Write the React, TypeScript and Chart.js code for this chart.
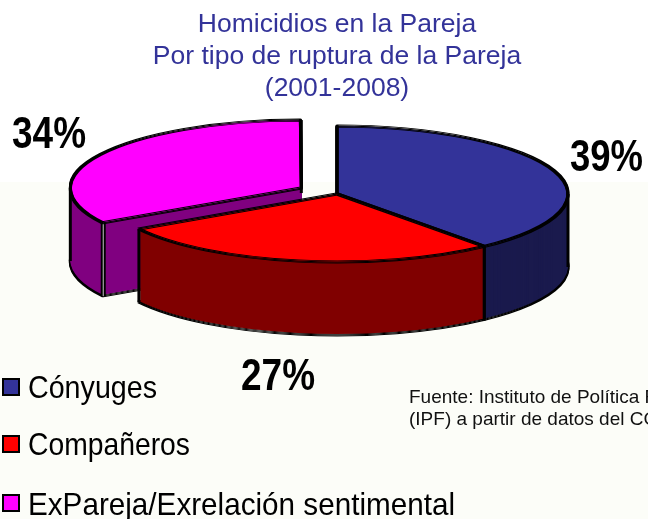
import React, { useEffect, useRef } from "react";
import { Chart, registerables } from "chart.js";

Chart.register(...registerables);

const titleLines = ["Homicidios en la Pareja", "Por tipo de ruptura de la Pareja", "(2001-2008)"];
const categories = ["Cónyuges", "Compañeros", "ExPareja/Exrelación sentimental"];
const shares = [39, 27.4, 33.6];
const percentLabels = ["39%", "27%", "34%"];
const sourceLines = ["Fuente: Instituto de Política Familiar", "(IPF) a partir de datos del CGPJ"];

const topColors = ["#333399", "#FF0000", "#FF00FF"];
const wallColors = ["#1A1A4D", "#800000", "#800080"];
const sliceOffsets = [0, 0, 164];
const drawOrder = [2, 0, 1];

const RADIUS = 231;
const SQUASH = 68 / 231;
const DEPTH = 72;
const FONT = '"Liberation Sans", Arial, sans-serif';

const percentPlacement = [
  { x: 570, y: 171, w: 73 },
  { x: 241, y: 390, w: 74 },
  { x: 12, y: 148, w: 74 },
];
const legendPlacement = [
  { box: 379, base: 398, w: 129 },
  { box: 436, base: 455, w: 162 },
  { box: 495, base: 515, w: 427 },
];

function fixFactor(el: any) {
  return 1 - Math.sin(Math.min(Math.PI, el.circumference || 0));
}

const pie3d = {
  id: "pie3d",
  beforeDraw(chart: any) {
    const { ctx, width, height } = chart;
    ctx.save();
    ctx.fillStyle = "#FFFFFF";
    ctx.fillRect(0, 0, width, height);
    ctx.fillStyle = "#FCFDF8";
    ctx.fillRect(0, 182, width, height - 182);
    ctx.restore();
  },
  afterDatasetsUpdate(chart: any) {
    // Arc.draw grows an exploded slice by offset * fix: cancel it so all slices share one radius.
    chart.getDatasetMeta(0).data.forEach((el: any) => {
      const off = (el.options.offset || 0) / 4;
      el.outerRadius = RADIUS - off * fixFactor(el);
    });
  },
  beforeDatasetsDraw(chart: any) {
    const { ctx } = chart;
    const arcs = chart.getDatasetMeta(0).data;

    const paint = (el: any, dy: number, fill: string, stroke: string, width: number) => {
      const orig = el.options;
      el.options = { ...orig, backgroundColor: fill, borderColor: stroke, borderWidth: width, borderJoinStyle: "round" };
      ctx.save();
      ctx.translate(0, el.y + dy);
      ctx.scale(1, SQUASH);
      ctx.translate(0, -el.y);
      el.draw(ctx);
      ctx.restore();
      el.options = orig;
    };

    drawOrder.forEach((i) => {
      const el = arcs[i];
      const off = (el.options.offset || 0) / 4;
      const mid = (el.startAngle + el.endAngle) / 2;
      const px = (a: number) => el.x + Math.cos(mid) * off + Math.cos(a) * RADIUS;
      const py = (a: number) => el.y + (Math.sin(mid) * off + Math.sin(a) * RADIUS) * SQUASH;

      // bottom outline
      [0, 1, 2].forEach((d) => paint(el, DEPTH + d, "transparent", "#000000", 3));
      // wall
      for (let d = DEPTH; d >= 1; d--) paint(el, d, wallColors[i], "transparent", 0);

      // vertical edges at the cut corners and silhouette extremes
      const edges = [el.startAngle, el.endAngle];
      [0, Math.PI].forEach((a) => {
        if (a > el.startAngle && a < el.endAngle) edges.push(a);
      });
      ctx.save();
      edges.forEach((a) => {
        const seam = off > 0 && a === el.startAngle;
        ctx.lineWidth = seam ? 5 : 3;
        ctx.strokeStyle = "#000000";
        ctx.beginPath();
        ctx.moveTo(px(a), py(a));
        ctx.lineTo(px(a), py(a) + DEPTH + 1);
        ctx.stroke();
        if (seam) {
          ctx.lineWidth = 1;
          ctx.strokeStyle = "#C8C8C8";
          ctx.stroke();
        }
      });
      ctx.restore();

      // top face
      paint(el, 0, topColors[i], "transparent", 0);
      [-1.1, 0, 1.1].forEach((d) => paint(el, d, "transparent", "#000000", 3));
    });

    // percent labels
    ctx.save();
    ctx.fillStyle = "#000000";
    ctx.textAlign = "left";
    ctx.textBaseline = "alphabetic";
    ctx.font = `bold 45px ${FONT}`;
    percentLabels.forEach((t, i) => {
      const p = percentPlacement[i];
      ctx.fillText(t, p.x, p.y, p.w);
    });

    // legend
    ctx.font = `32px ${FONT}`;
    chart.data.labels.forEach((label: string, i: number) => {
      const p = legendPlacement[i];
      ctx.fillStyle = topColors[i];
      ctx.fillRect(3, p.box, 16, 16);
      ctx.strokeStyle = "#000000";
      ctx.lineWidth = 2;
      ctx.strokeRect(3, p.box, 16, 16);
      ctx.fillStyle = "#000000";
      ctx.fillText(label, 28, p.base, p.w);
    });

    // source note
    ctx.font = `19px ${FONT}`;
    ctx.fillStyle = "#111111";
    sourceLines.forEach((line, i) => ctx.fillText(line, 409, 403 + i * 22));
    ctx.restore();

    return false;
  },
};

export default function App() {
  const ref = useRef<HTMLCanvasElement>(null);
  useEffect(() => {
    const chart = new Chart(ref.current as HTMLCanvasElement, {
      type: "pie",
      data: {
        labels: categories,
        datasets: [
          {
            data: shares,
            backgroundColor: topColors,
            borderColor: "#000000",
            borderWidth: 0,
            offset: sliceOffsets,
            radius: RADIUS,
          } as any,
        ],
      },
      plugins: [pie3d as any],
      options: {
        animation: false,
        responsive: false,
        events: [],
        layout: { padding: { left: 26, right: 0, top: 0, bottom: 236 } },
        plugins: {
          legend: { display: false },
          tooltip: { enabled: false },
          title: {
            display: true,
            text: titleLines,
            color: "#333399",
            font: { family: FONT, size: 26.5, weight: "normal", lineHeight: 32 / 26.5 },
            padding: { top: 9, bottom: 0 },
          },
        },
      },
    });
    return () => chart.destroy();
  }, []);
  return (
    <canvas
      ref={ref}
      width={648}
      height={519}
      style={{ position: "absolute", left: 0, top: 0, width: 648, height: 519, display: "block" }}
    />
  );
}
